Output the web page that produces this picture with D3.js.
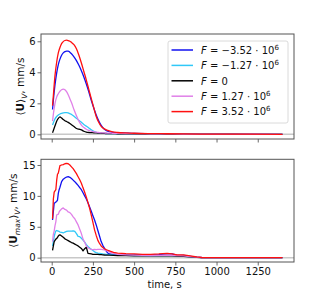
<!DOCTYPE html>
<html><head><meta charset="utf-8">
<script src="https://cdn.jsdelivr.net/npm/d3@7"></script>
<style>body{margin:0;background:#fff}svg{display:block}text{font-family:"DejaVu Sans",sans-serif}</style>
</head><body>
<script>
// ---- data ----
const seriesNames = ["F = −3.52·10^6","F = −1.27·10^6","F = 0","F = 1.27·10^6","F = 3.52·10^6"];
const legendMain = [" = −3.52 · 10"," = −1.27 · 10"," = 0"," = 1.27 · 10"," = 3.52 · 10"];
const legendExp = ["6","6","","6","6"];
const colors = ["#1010f0","#30c8f8","#000000","#e080e8","#ff1010"];

const xTicks = [0,250,500,750,1000,1250];
const yTicksTop = [0,2,4,6];
const yTicksBot = [0,5,10,15];

// top panel: <U>_V (mm/s)
const tTop = [5,10,20,30,40,50,60,70,80,90,100,110,120,135,150,165,180,195,210,225,240,255,270,285,300,320,340,370,400,450,500,600,700,800,900,1000,1200,1400];
const topBlue   = [1.6,2.2,3.2,3.95,4.5,4.85,5.1,5.25,5.33,5.37,5.37,5.3,5.2,5.0,4.75,4.45,4.1,3.7,3.25,2.75,2.2,1.7,1.25,0.88,0.58,0.32,0.2,0.13,0.1,0.08,0.06,0.05,0.04,0.03,0.02,0.01,0.01,0];
const topCyan   = [0.6,0.75,1.0,1.15,1.25,1.31,1.35,1.38,1.4,1.4,1.38,1.33,1.28,1.17,1.03,0.9,0.78,0.64,0.53,0.41,0.3,0.2,0.13,0.09,0.07,0.06,0.05,0.05,0.04,0.04,0.03,0.03,0.02,0.02,0.01,0.01,0,0];
const topBlack  = [0.1,0.25,0.55,0.85,1.03,1.13,1.05,0.95,0.88,0.83,0.77,0.7,0.62,0.5,0.38,0.33,0.29,0.2,0.14,0.12,0.11,0.1,0.09,0.08,0.07,0.06,0.05,0.05,0.04,0.04,0.03,0.03,0.02,0.02,0.01,0.01,0,0];
const topViolet = [0.85,1.3,2.0,2.4,2.62,2.78,2.88,2.92,2.88,2.75,2.55,2.3,2.05,1.6,1.2,0.85,0.6,0.44,0.33,0.26,0.2,0.17,0.14,0.12,0.1,0.09,0.08,0.07,0.06,0.05,0.05,0.04,0.03,0.02,0.02,0.01,0.01,0];
const topRed    = [1.85,2.5,3.8,4.65,5.25,5.6,5.85,5.98,6.05,6.07,6.05,6.0,5.93,5.78,5.52,5.1,4.6,4.05,3.5,2.9,2.3,1.72,1.15,0.78,0.52,0.35,0.25,0.16,0.12,0.09,0.07,0.05,0.04,0.03,0.02,0.01,0.01,0];

// bottom panel: <U_max>_V (mm/s)
const tBot = [5,10,15,20,25,30,35,40,45,50,60,70,80,90,100,110,120,130,140,150,160,170,180,190,200,210,220,230,240,250,260,270,280,290,300,310,320,330,340,350,375,400,450,500,550,600,650,700,730,760,800,840,880,910,950,1000,1200,1400];
const botBlue   = [6.1,7.5,8.8,8.9,9.0,9.1,9.3,10.4,11.0,11.4,12.3,12.7,12.9,13.05,13.1,13.0,12.8,12.55,12.3,12.0,11.7,11.35,11.0,10.5,10.0,9.5,8.9,8.2,7.5,6.8,6.1,5.3,4.4,3.5,2.6,2.0,1.5,1.1,0.75,0.6,0.5,0.48,0.45,0.45,0.45,0.45,0.5,0.6,0.6,0.4,0.35,0.22,0.1,0.03,0,0,0,0];
const botCyan   = [1.9,2.6,3.4,3.95,4.3,4.4,4.35,4.3,4.25,4.15,4.1,4.0,4.15,4.25,4.3,4.3,4.3,4.35,4.25,3.9,3.45,3.4,3.15,2.85,2.5,2.1,1.8,1.55,1.35,1.15,0.95,0.82,0.75,0.7,0.65,0.6,0.58,0.55,0.52,0.5,0.45,0.4,0.38,0.35,0.33,0.3,0.32,0.35,0.33,0.3,0.25,0.15,0.07,0.02,0,0,0,0];
const botBlack  = [1.2,1.9,2.6,2.8,3.0,3.1,3.3,3.5,3.65,3.7,3.5,3.3,3.05,2.9,2.75,2.6,2.45,2.35,2.2,2.05,1.9,1.7,1.5,1.1,1.45,1.7,0.7,0.65,0.6,0.55,0.55,0.55,0.55,0.5,0.48,0.45,0.43,0.42,0.4,0.4,0.38,0.35,0.32,0.3,0.3,0.3,0.3,0.3,0.28,0.25,0.2,0.12,0.05,0.02,0,0,0,0];
const botViolet = [2.6,3.8,4.3,5.2,5.8,6.9,7.0,7.0,7.4,7.6,7.9,8.05,7.8,7.7,7.4,7.3,7.0,6.6,6.3,5.8,5.3,4.6,3.9,3.0,2.5,1.9,1.6,1.45,1.35,1.3,1.35,1.3,1.35,1.35,1.35,1.3,1.25,1.15,1.05,0.95,0.7,0.55,0.45,0.4,0.38,0.35,0.38,0.4,0.38,0.35,0.3,0.18,0.08,0.03,0,0,0,0];
const botRed    = [6.3,9.5,10.6,10.8,11.0,12.5,13.5,13.7,14.3,14.9,15.0,15.05,15.2,15.25,15.2,15.0,14.7,14.4,14.0,13.6,13.1,12.6,12.05,11.3,10.6,9.8,8.9,8.0,6.9,5.7,4.5,3.6,2.8,2.3,1.9,1.65,1.45,1.3,1.2,1.1,0.85,0.75,0.65,0.6,0.55,0.55,0.6,0.7,0.6,0.45,0.45,0.3,0.12,0.03,0,0,0,0];

const topSeries = [topBlue, topCyan, topBlack, topViolet, topRed];
const botSeries = [botBlue, botCyan, botBlack, botViolet, botRed];

// ---- drawing ----
const W = 327, H = 300;
const svg = d3.select("body").append("svg").attr("width", W).attr("height", H);

const x = d3.scaleLinear().domain([-65, 1470]).range([41, 294]);
const yTop = d3.scaleLinear().domain([-0.30, 6.47]).range([139, 34]);
const yBot = d3.scaleLinear().domain([-0.70, 15.92]).range([262, 159.3]);

function panel(y, yTicks, tArr, series, showXLabels, curve) {
  const [x0, x1] = x.range();
  const [yb, yt] = y.range();
  const g = svg.append("g");
  const clipId = "c" + Math.round(yt);
  svg.append("clipPath").attr("id", clipId).append("rect")
    .attr("x", x0).attr("y", yt).attr("width", x1 - x0).attr("height", yb - yt);
  g.append("line").attr("x1", x0).attr("x2", x1).attr("y1", y(0)).attr("y2", y(0))
    .attr("stroke", "#c8c8c8").attr("stroke-width", 1.5);
  const plot = g.append("g").attr("clip-path", `url(#${clipId})`);
  series.forEach((vals, i) => {
    const line = d3.line().x((d, j) => x(tArr[j])).y(d => y(d)).curve(curve);
    plot.append("path").datum(vals).attr("d", line).attr("fill", "none")
      .attr("stroke", colors[i]).attr("stroke-width", 1.3).attr("stroke-linejoin", "round");
  });
  const ax = g.append("g").attr("transform", `translate(0,${yb})`)
    .call(d3.axisBottom(x).tickValues(xTicks).tickSize(3.5).tickPadding(2)
      .tickFormat(showXLabels ? d3.format("d") : () => ""));
  const ay = g.append("g").attr("transform", `translate(${x0},0)`)
    .call(d3.axisLeft(y).tickValues(yTicks).tickSize(3.5).tickPadding(2).tickFormat(d3.format("d")));
  [ax, ay].forEach(a => {
    a.select(".domain").remove();
    a.selectAll(".tick line").attr("stroke", "#444").attr("stroke-width", 0.8);
    a.selectAll(".tick text").attr("fill", "#111").style("font-size", "10px")
      .style("font-family", "'DejaVu Sans', sans-serif");
  });
  g.append("rect").attr("x", x0).attr("y", yt).attr("width", x1 - x0).attr("height", yb - yt)
    .attr("fill", "none").attr("stroke", "#555").attr("stroke-width", 1);
  return g;
}

panel(yTop, yTicksTop, tTop, topSeries, false, d3.curveMonotoneX);
panel(yBot, yTicksBot, tBot, botSeries, true, d3.curveLinear);

svg.append("text").attr("x", x(685)).attr("y", 288).attr("text-anchor", "middle")
  .style("font-size", "10px").attr("fill", "#111").text("time, s");

function ylabel(cx, cy, parts) {
  const t = svg.append("text").attr("transform", `translate(${cx},${cy}) rotate(-90)`)
    .attr("text-anchor", "middle").style("font-size", "10.5px").attr("fill", "#111");
  parts.forEach(p => {
    const s = t.append("tspan").text(p.t);
    if (p.b) s.attr("font-weight", "bold");
    if (p.i) s.attr("font-style", "italic");
    if (p.sub) s.style("font-size", "7.5px");
    if (p.dy) s.attr("dy", p.dy);
  });
}
ylabel(24, 86.5, [{t:"⟨"},{t:"U",b:1},{t:"⟩"},{t:"V",i:1,sub:1,dy:2.5},{t:", mm/s",dy:-2.5}]);
ylabel(17, 210.6, [{t:"⟨"},{t:"U",b:1},{t:"max",i:1,sub:1,dy:2.5},{t:"⟩",dy:-2.5},{t:"V",i:1,sub:1,dy:2.5},{t:", mm/s",dy:-2.5}]);

const lg = svg.append("g");
lg.append("rect").attr("x", 168).attr("y", 41).attr("width", 120).attr("height", 82).attr("rx", 2)
  .attr("fill", "#fff").attr("fill-opacity", 0.85).attr("stroke", "#d0d0d0").attr("stroke-width", 0.8);
seriesNames.forEach((name, i) => {
  const yy = 50 + i * 15.4;
  lg.append("line").attr("x1", 171.5).attr("x2", 193).attr("y1", yy).attr("y2", yy)
    .attr("stroke", colors[i]).attr("stroke-width", 1.5);
  const t = lg.append("text").attr("x", 201).attr("y", yy + 3.8).style("font-size", "10px").attr("fill", "#111");
  t.append("tspan").attr("font-style", "italic").text("F");
  t.append("tspan").text(legendMain[i]);
  if (legendExp[i]) t.append("tspan").attr("dy", -4).style("font-size", "7px").text(legendExp[i]);
});
</script>
</body></html>
